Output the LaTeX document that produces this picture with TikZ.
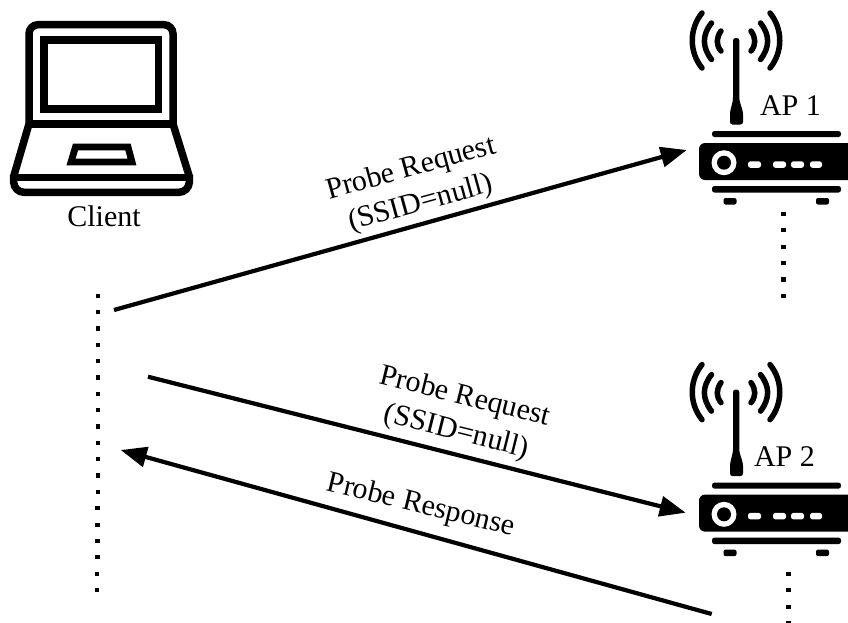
\documentclass[tikz,border=0pt]{standalone}
\usepackage{fontspec}
\setmainfont{Liberation Serif}
\usetikzlibrary{arrows.meta}
\tikzset{
  lbl/.style={font=\fontsize{30}{36}\selectfont,align=center,inner sep=0pt,text=black},
  msg/.style={line width=4.2pt,-{Triangle[length=26pt,width=20pt]}},
  dotmark/.style={fill=black,draw=none,minimum size=4.2pt,inner sep=0pt,shape=rectangle},
  icon/.style={line width=7.5pt,draw=black,line join=miter},
  wave/.style={line width=5.5pt,line cap=round,draw=black},
  router/.pic={
    \foreach \s in {1,-1}{
      \draw[wave] (736-\s*34,13) .. controls (736-\s*47,29) and (736-\s*47,52) .. (736-\s*34,68);
      \draw[wave] (736-\s*24.5,23) .. controls (736-\s*34,35) and (736-\s*34,47) .. (736-\s*24.5,59.5);
      \draw[wave] (736-\s*15,31) .. controls (736-\s*20,38) and (736-\s*20,45) .. (736-\s*15,51);
    }
    \fill[black,rounded corners=2.5pt] (733,38) -- (739.3,38) -- (739.3,100) -- (743,112) -- (743,124.5) -- (730,124.5) -- (730,112) -- (733,100) -- cycle;
    \fill[black,rounded corners=2.5pt] (712,131) rectangle (841,137);
    \fill[black,rounded corners=6pt] (699,143) rectangle (860,180);
    \fill[black,rounded corners=2.5pt] (712,186) rectangle (841,192.5);
    \fill[black,rounded corners=2pt] (723.5,198) rectangle (736.5,204.5);
    \fill[black,rounded corners=2pt] (816,198) rectangle (829,204.5);
    \fill[white] (724,162.7) circle (12.5);
    \fill[black] (724,162.7) circle (7);
    \foreach \a/\b in {748/761,773/786,791/804,810/822}
      \fill[white,rounded corners=2.5pt] (\a,161.3) rectangle (\b,167.8);
  }
}
\begin{document}
\begin{tikzpicture}[x=1pt,y=-1pt]
\useasboundingbox (0,0) rectangle (848,622);
% laptop
\draw[icon,rounded corners=9pt] (29,124) -- (29,24.7) -- (173,24.7) -- (173,124);
\draw[icon] (44,40) rectangle (158.5,109);
\draw[icon] (27,123.8) -- (175,123.8);
\draw[icon] (29,124) -- (13.5,177);
\draw[icon] (173,124) -- (189.5,177);
\draw[icon,rounded corners=10pt] (13.5,175) -- (14,192.3) -- (189,192.3) -- (189.5,175);
\draw[icon] (13.5,177.5) -- (189.5,177.5);
\draw[line width=6.8pt] (75.5,147) -- (128,147) -- (132,162) -- (71,162) -- cycle;
\node[lbl,anchor=base] (client) at (104,226.7) {Client};
% access points
\pic at (0,0) {router};
\pic at (0,351.6) {router};
\node[lbl,anchor=base] (ap1) at (790.5,115.7) {AP 1};
\node[lbl,anchor=base] (ap2) at (784.5,466.7) {AP 2};
% dotted lifelines
\foreach \i in {0,...,18}
  \node[dotmark] (l\i) at (98.2-\i*0.05,295.7+\i*16.35) {};
\foreach \i in {0,...,5}
  \node[dotmark] (a\i) at (783.4,214+\i*16.35) {};
\foreach \i in {0,...,3}
  \node[dotmark] (b\i) at (788.4,574+\i*16.35) {};
% messages
\coordinate (s1) at (114,310);
\coordinate (t1) at (686.7,150);
\coordinate (s2) at (148,376.7);
\coordinate (t2) at (685.7,512.7);
\coordinate (s3) at (711.7,614);
\coordinate (t3) at (120.7,450);
\draw[msg] (s1) -- (t1);
\draw[msg] (s2) -- (t2);
\draw[msg] (s3) -- (t3);
\node[lbl,rotate=15.4] (m1) at (416,186.5) {Probe Request\\(SSID=null)};
\node[lbl,rotate=-14] (m2) at (460.5,415) {Probe Request\\(SSID=null)};
\node[lbl,rotate=-13.7] (m3) at (421,506) {Probe Response};
\end{tikzpicture}
\end{document}
